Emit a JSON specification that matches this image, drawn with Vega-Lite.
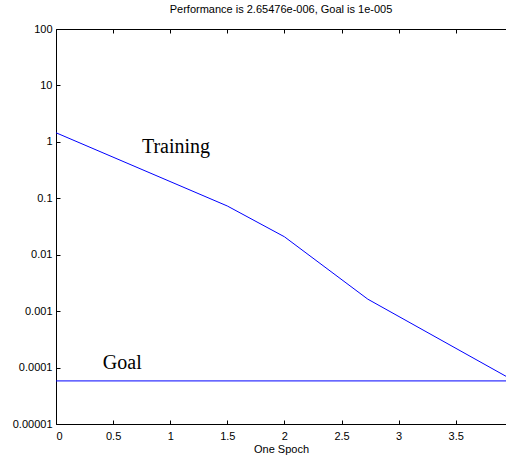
{
  "$schema": "https://vega.github.io/schema/vega-lite/v6.json",
  "autosize": "none",
  "width": 450,
  "height": 395,
  "padding": {"left": 56, "top": 29, "right": 0, "bottom": 33},
  "background": "white",
  "config": {
    "view": {"stroke": null},
    "axis": {
      "domainColor": "black",
      "tickColor": "black",
      "labelColor": "black",
      "titleColor": "black",
      "labelFont": "Liberation Sans",
      "titleFont": "Liberation Sans",
      "labelFontSize": 11,
      "titleFontSize": 11,
      "titleFontWeight": "normal",
      "grid": false,
      "tickWidth": 1
    }
  },
  "title": {
    "text": "Performance is 2.65476e-006, Goal is 1e-005",
    "font": "Liberation Sans",
    "fontSize": 11,
    "fontWeight": "normal",
    "color": "black",
    "anchor": "middle",
    "offset": 8
  },
  "datasets": {
    "training": [
      {"epoch": 0, "perf": 1.45},
      {"epoch": 1.5, "perf": 0.073},
      {"epoch": 2, "perf": 0.0208},
      {"epoch": 2.73, "perf": 0.00163},
      {"epoch": 3.94, "perf": 0.00007}
    ],
    "goal": [{"goal": 0.000058}],
    "labels": [
      {"label": "Training", "epoch": 0.752, "perf": 0.63},
      {"label": "Goal", "epoch": 0.41, "perf": 0.000096}
    ]
  },
  "layer": [
    {
      "data": {"name": "training"},
      "mark": {"type": "line", "color": "#0000ff", "strokeWidth": 1},
      "encoding": {
        "x": {
          "field": "epoch", "type": "quantitative",
          "scale": {"domain": [0, 3.94], "nice": false, "zero": false},
          "axis": {"values": [0, 0.5, 1, 1.5, 2, 2.5, 3, 3.5], "title": "One Spoch", "titlePadding": 2, "format": "~g", "ticks": true, "tickSize": -4, "labelPadding": 10}
        },
        "y": {
          "field": "perf", "type": "quantitative",
          "scale": {"type": "log", "domain": [0.00001, 100], "nice": false},
          "axis": {"values": [0.00001, 0.0001, 0.001, 0.01, 0.1, 1, 10, 100], "format": "~f", "title": null, "ticks": true, "tickSize": -4, "labelPadding": 8}
        }
      }
    },
    {
      "data": {"name": "training"},
      "mark": {"type": "line", "opacity": 0},
      "encoding": {
        "x": {
          "field": "epoch", "type": "quantitative",
          "axis": {"orient": "top", "ticks": true, "tickSize": -4, "domain": true, "values": [0, 0.5, 1, 1.5, 2, 2.5, 3, 3.5], "labels": false, "title": null}
        },
        "y": {"field": "perf", "type": "quantitative", "axis": null}
      }
    },
    {
      "data": {"name": "goal"},
      "mark": {"type": "rule", "color": "#0000ff", "strokeWidth": 1},
      "encoding": {
        "y": {"field": "goal", "type": "quantitative", "axis": null}
      }
    },
    {
      "data": {"name": "labels"},
      "mark": {"type": "text", "font": "Liberation Serif", "fontSize": 20, "align": "left", "baseline": "alphabetic", "color": "black"},
      "encoding": {
        "x": {"field": "epoch", "type": "quantitative", "axis": null},
        "y": {"field": "perf", "type": "quantitative", "axis": null},
        "text": {"field": "label"}
      }
    }
  ],
  "resolve": {"axis": {"x": "independent", "y": "independent"}}
}
